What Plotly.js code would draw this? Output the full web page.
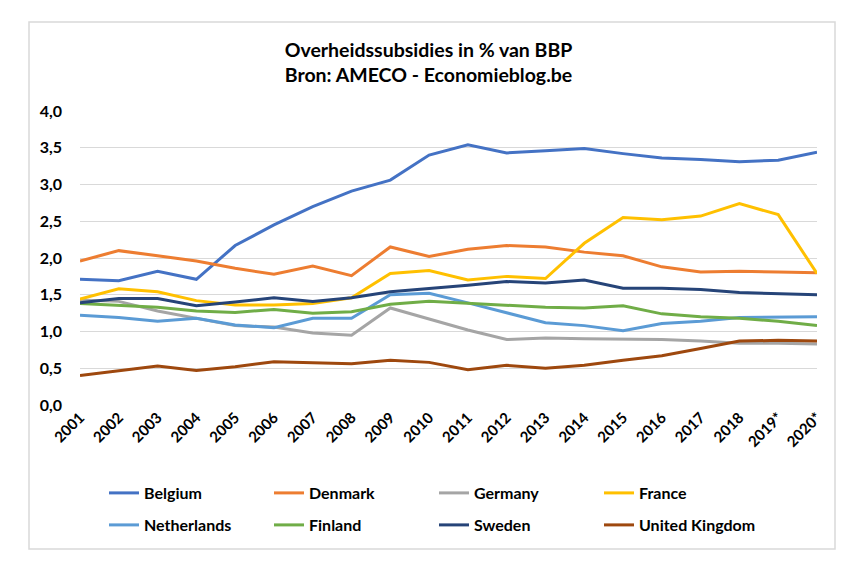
<!DOCTYPE html>
<html>
<head>
<meta charset="utf-8">
<script src="https://cdn.plot.ly/plotly-3.0.1.min.js"></script>
<style>html,body{margin:0;padding:0;background:#fff;}#chart{width:857px;height:575px;}</style>
</head>
<body>
<div id="chart"></div>
<script>
const years = ["2001","2002","2003","2004","2005","2006","2007","2008","2009","2010","2011","2012","2013","2014","2015","2016","2017","2018","2019*","2020*"];
const belgium     = [1.71,1.69,1.82,1.71,2.17,2.45,2.70,2.91,3.06,3.40,3.54,3.43,3.46,3.49,3.42,3.36,3.34,3.31,3.33,3.44];
const denmark     = [1.96,2.10,2.03,1.96,1.86,1.78,1.89,1.76,2.15,2.02,2.12,2.17,2.15,2.08,2.03,1.88,1.81,1.82,1.81,1.80];
const germany     = [1.43,1.41,1.28,1.18,1.08,1.06,0.98,0.95,1.32,1.17,1.02,0.89,0.91,0.90,0.90,0.89,0.87,0.84,0.84,0.83];
const france      = [1.44,1.58,1.54,1.42,1.36,1.36,1.38,1.46,1.79,1.83,1.70,1.75,1.72,2.20,2.55,2.52,2.57,2.74,2.59,1.79];
const netherlands = [1.22,1.19,1.14,1.18,1.09,1.05,1.18,1.18,1.50,1.52,1.39,1.26,1.12,1.08,1.01,1.11,1.14,1.19,1.20,1.20];
const finland     = [1.38,1.36,1.33,1.28,1.26,1.30,1.25,1.27,1.37,1.41,1.38,1.36,1.33,1.32,1.35,1.24,1.20,1.18,1.14,1.08];
const sweden      = [1.39,1.45,1.45,1.35,1.40,1.46,1.41,1.46,1.54,1.58,1.63,1.68,1.66,1.70,1.59,1.59,1.57,1.53,1.52,1.50];
const uk          = [0.40,0.47,0.53,0.47,0.52,0.59,0.58,0.56,0.61,0.58,0.48,0.54,0.50,0.54,0.61,0.67,0.77,0.87,0.88,0.87];

const names  = ["Belgium","Denmark","Germany","France","Netherlands","Finland","Sweden","United Kingdom"];
const series = [belgium,denmark,germany,france,netherlands,finland,sweden,uk];
const colors = ["#4472C4","#ED7D31","#A5A5A5","#FFC000","#5B9BD5","#70AD47","#264478","#9E480E"];

const FONT = "Lato, 'Open Sans', sans-serif";
const traces = series.map((s,i)=>({
  type:'scatter', mode:'lines', x:years, y:s, name:names[i],
  legend: i < 4 ? 'legend' : 'legend2',
  line:{color:colors[i], width:3}, hoverinfo:'skip'
}));

const legendBase = {
  orientation:'h', x:(104-80)/737, xanchor:'left', yanchor:'middle',
  entrywidth:120, entrywidthmode:'pixels',
  font:{family:FONT, size:16, color:'#000', weight:'bold'},
  traceorder:'normal', itemclick:false, itemdoubleclick:false, bgcolor:'rgba(0,0,0,0)'
};

const layout = {
  width:857, height:575,
  margin:{l:80, r:40, t:111, b:170},
  paper_bgcolor:'#fff', plot_bgcolor:'#fff',
  separators:',.',
  font:{family:FONT, color:'#000'},
  title:{
    text:'Overheidssubsidies in % van BBP<br>Bron: AMECO - Economieblog.be',
    font:{family:FONT, size:19.5, color:'#000', weight:'bold'},
    x:0.5, xanchor:'center', xref:'container',
    y:1-57/575, yanchor:'middle', yref:'container'
  },
  xaxis:{
    type:'category', tickangle:-45, showgrid:false, zeroline:false, showline:false,
    ticks:'', tickfont:{family:FONT, size:15, color:'#000', weight:'bold'}, fixedrange:true
  },
  yaxis:{
    range:[0,4], dtick:0.5, tickformat:'.1f', showgrid:true, gridcolor:'#D9D9D9', gridwidth:1,
    zeroline:false, showline:false, ticks:'', ticklabelstandoff:17,
    tickfont:{family:FONT, size:16, color:'#000', weight:'bold'}, fixedrange:true
  },
  showlegend:true,
  legend: Object.assign({}, legendBase, {y:(405-493)/294}),
  legend2: Object.assign({}, legendBase, {y:(405-525)/294}),
  shapes:[{
    type:'rect', xref:'paper', yref:'paper',
    x0:(29-80)/737, x1:(835-80)/737, y0:(405-549)/294, y1:(405-22)/294,
    line:{color:'#D9D9D9', width:1.5}, fillcolor:'rgba(0,0,0,0)', layer:'below'
  }]
};

Plotly.newPlot('chart', traces, layout, {staticPlot:true, displayModeBar:false});
</script>
</body>
</html>
